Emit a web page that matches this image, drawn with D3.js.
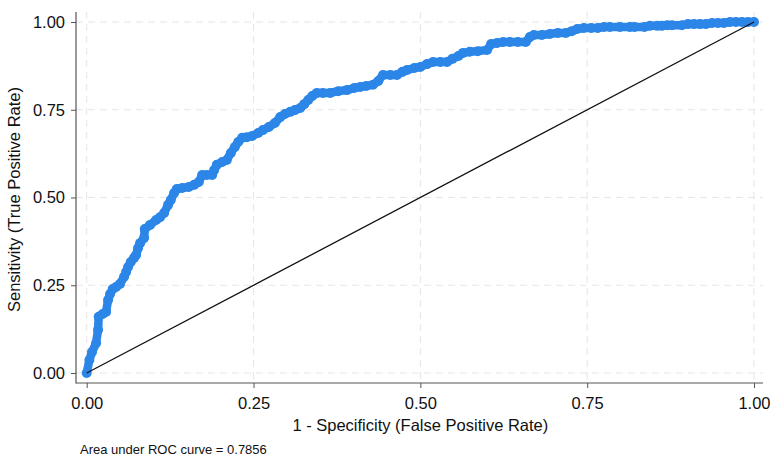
<!DOCTYPE html>
<html>
<head>
<meta charset="utf-8">
<script src="https://cdn.jsdelivr.net/npm/d3@7"></script>
<style>
  body { margin: 0; background: #fff; }
  svg { display: block; font-family: "Liberation Sans", Arial, sans-serif; }
</style>
</head>
<body>
<div class="chart"></div>
<script>
// ROC points (1 - specificity, sensitivity)
const fpr = [
  0.000, 0.004, 0.008, 0.014, 0.017, 0.018, 0.024, 0.029, 0.032, 0.035,
  0.039, 0.044, 0.050, 0.056, 0.059, 0.062, 0.066, 0.071, 0.074, 0.077,
  0.080, 0.086, 0.087, 0.095, 0.104, 0.110, 0.116, 0.122, 0.126, 0.131,
  0.135, 0.143, 0.153, 0.161, 0.168, 0.173, 0.180, 0.188, 0.191, 0.195,
  0.203, 0.210, 0.216, 0.222, 0.227, 0.233, 0.240, 0.248, 0.257, 0.264,
  0.273, 0.282, 0.290, 0.297, 0.305, 0.312, 0.320, 0.326, 0.332, 0.338,
  0.345, 0.354, 0.365, 0.377, 0.390, 0.401, 0.410, 0.419, 0.429, 0.437,
  0.444, 0.455, 0.465, 0.473, 0.480, 0.491, 0.500, 0.510, 0.519, 0.530,
  0.540, 0.548, 0.557, 0.564, 0.574, 0.586, 0.600, 0.606, 0.615, 0.624,
  0.634, 0.646, 0.658, 0.664, 0.670, 0.682, 0.694, 0.706, 0.718, 0.727,
  0.735, 0.745, 0.756, 0.766, 0.775, 0.784, 0.799, 0.814, 0.821, 0.836,
  0.844, 0.855, 0.862, 0.870, 0.877, 0.892, 0.901, 0.910, 0.919, 0.928,
  0.937, 0.946, 0.955, 0.964, 0.973, 0.982, 0.991, 1.000
];
const tpr = [
  0.000, 0.037, 0.060, 0.085, 0.123, 0.160, 0.168, 0.174, 0.208, 0.225,
  0.239, 0.245, 0.254, 0.274, 0.288, 0.302, 0.316, 0.328, 0.336, 0.356,
  0.370, 0.385, 0.410, 0.422, 0.436, 0.444, 0.456, 0.479, 0.493, 0.513,
  0.524, 0.527, 0.530, 0.536, 0.544, 0.564, 0.564, 0.564, 0.578, 0.593,
  0.601, 0.607, 0.627, 0.644, 0.658, 0.670, 0.672, 0.675, 0.684, 0.692,
  0.701, 0.712, 0.729, 0.738, 0.744, 0.749, 0.755, 0.766, 0.778, 0.789,
  0.798, 0.798, 0.798, 0.803, 0.806, 0.812, 0.815, 0.818, 0.821, 0.832,
  0.849, 0.849, 0.849, 0.858, 0.863, 0.869, 0.872, 0.880, 0.886, 0.886,
  0.886, 0.895, 0.903, 0.912, 0.915, 0.917, 0.920, 0.937, 0.940, 0.943,
  0.943, 0.943, 0.943, 0.957, 0.963, 0.963, 0.966, 0.969, 0.969, 0.974,
  0.980, 0.983, 0.983, 0.983, 0.986, 0.986, 0.986, 0.986, 0.986, 0.986,
  0.989, 0.989, 0.989, 0.991, 0.991, 0.991, 0.994, 0.994, 0.994, 0.994,
  0.997, 0.997, 0.997, 1.000, 1.000, 1.000, 1.000, 1.000
];
const refLine = [[0, 0], [1, 1]];
const tickValues = [0, 0.25, 0.5, 0.75, 1];
const tickLabels = ["0.00", "0.25", "0.50", "0.75", "1.00"];
const xTitle = "1 - Specificity (False Positive Rate)";
const yTitle = "Sensitivity (True Positive Rate)";
const note = "Area under ROC curve = 0.7856";

const points = fpr.map((d, i) => ({ x: d, y: tpr[i] }));

const width = 770;
const height = 462;
const plot = { left: 76, right: 763, top: 12, bottom: 383 };

const xScale = d3.scaleLinear().domain([0, 1]).range([86.7, 754]);
const yScale = d3.scaleLinear().domain([0, 1]).range([373, 22]);

const svg = d3
  .select(".chart")
  .append("svg")
  .attr("width", width)
  .attr("height", height);

// dashed grid
svg
  .append("g")
  .selectAll("line")
  .data(tickValues)
  .join("line")
  .attr("x1", plot.left)
  .attr("x2", plot.right)
  .attr("y1", (d) => yScale(d))
  .attr("y2", (d) => yScale(d))
  .attr("stroke", "#e6e6e6")
  .attr("stroke-dasharray", "7,5");

svg
  .append("g")
  .selectAll("line")
  .data(tickValues)
  .join("line")
  .attr("y1", plot.top)
  .attr("y2", plot.bottom)
  .attr("x1", (d) => xScale(d))
  .attr("x2", (d) => xScale(d))
  .attr("stroke", "#e6e6e6")
  .attr("stroke-dasharray", "7,5");

// axes
const fmt = (d) => tickLabels[tickValues.indexOf(d)];

const xAxis = svg
  .append("g")
  .attr("transform", `translate(0, ${plot.bottom})`)
  .call(d3.axisBottom(xScale).tickValues(tickValues).tickFormat(fmt).tickSize(5).tickPadding(9));

const yAxis = svg
  .append("g")
  .attr("transform", `translate(${plot.left}, 0)`)
  .call(d3.axisLeft(yScale).tickValues(tickValues).tickFormat(fmt).tickSize(5).tickPadding(6));

[xAxis, yAxis].forEach((g) => {
  g.select(".domain").remove();
  g.selectAll(".tick line").attr("stroke", "#555");
  g.selectAll(".tick text")
    .attr("fill", "#111")
    .style("font-family", "'Liberation Sans', Arial, sans-serif")
    .style("font-size", "16.5px");
});

// axis lines (left and bottom only)
svg.append("line")
  .attr("x1", plot.left).attr("x2", plot.left)
  .attr("y1", plot.top).attr("y2", plot.bottom + 0.5)
  .attr("stroke", "#555").attr("stroke-width", 1.2);
svg.append("line")
  .attr("x1", plot.left).attr("x2", plot.right)
  .attr("y1", plot.bottom).attr("y2", plot.bottom)
  .attr("stroke", "#555").attr("stroke-width", 1.2);

// ROC curve: connecting line + markers
const line = d3.line().x((d) => xScale(d.x)).y((d) => yScale(d.y));

svg.append("path")
  .datum(points)
  .attr("d", line)
  .attr("fill", "none")
  .attr("stroke", "#2b86e8")
  .attr("stroke-width", 8.5)
  .attr("stroke-linejoin", "round")
  .attr("stroke-linecap", "round");

svg.append("g")
  .selectAll("circle")
  .data(points)
  .join("circle")
  .attr("cx", (d) => xScale(d.x))
  .attr("cy", (d) => yScale(d.y))
  .attr("r", 5)
  .attr("fill", "#2b86e8");

// reference diagonal
svg.append("path")
  .datum(refLine)
  .attr("d", d3.line().x((d) => xScale(d[0])).y((d) => yScale(d[1])))
  .attr("stroke", "#111")
  .attr("stroke-width", 1.3)
  .attr("fill", "none");

// titles
svg.append("text")
  .attr("x", xScale(0.5))
  .attr("y", 431)
  .attr("text-anchor", "middle")
  .style("font-size", "16.5px")
  .attr("fill", "#111")
  .text(xTitle);

svg.append("text")
  .attr("transform", `translate(20, ${yScale(0.5) + 2}) rotate(-90)`)
  .attr("text-anchor", "middle")
  .style("font-size", "16.5px")
  .attr("fill", "#111")
  .text(yTitle);

svg.append("text")
  .attr("x", 80)
  .attr("y", 454)
  .style("font-size", "13px")
  .attr("fill", "#111")
  .text(note);
</script>
</body>
</html>
